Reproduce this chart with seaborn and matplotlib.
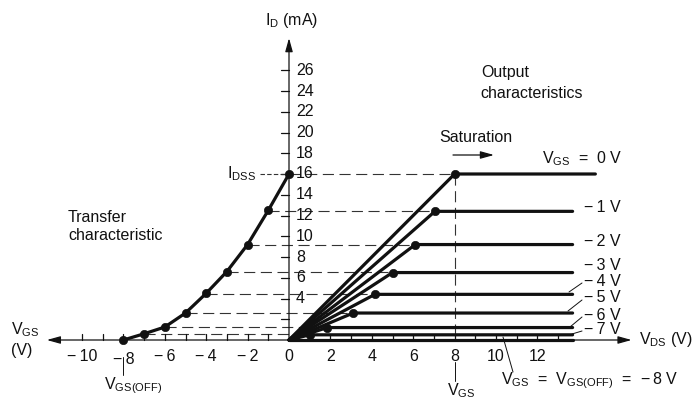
import numpy as np
import pandas as pd
import matplotlib
matplotlib.use("Agg")
import matplotlib.pyplot as plt
import seaborn as sns

# ---------------- data ----------------
vgs_levels = [0, -1, -2, -3, -4, -5, -6, -7, -8]
transfer_id = [16.0, 12.5, 9.2, 6.6, 4.5, 2.6, 1.25, 0.6, 0.0]
output_id = [16.0, 12.4, 9.2, 6.5, 4.4, 2.6, 1.2, 0.5, 0.0]
vds_sat = [8.0, 7.05, 6.1, 5.0, 4.15, 3.1, 1.85, 1.0, 0.0]
vds_end = [14.8, 13.7, 13.7, 13.7, 13.7, 13.7, 13.7, 13.7, 13.7]
TS = "\u2009"
curve_labels = ["V$_\\mathregular{GS}$  =  0 V", f"−{TS}1 V", f"−{TS}2 V", f"−{TS}3 V",
                f"−{TS}4 V", f"−{TS}5 V", f"−{TS}6 V", f"−{TS}7 V", ""]
y_ticks = [2, 4, 6, 8, 10, 12, 14, 16, 18, 20, 22, 24, 26]
y_ticklabels = ["", "4", "6", "8", "10", "12", "14", "16", "18", "20", "22", "24", "26"]
x_ticks_left = [-10, -9, -8, -7, -6, -5, -4, -3, -2, -1]
x_ticks_right = [1, 2, 3, 4, 5, 6, 7, 8, 9, 10, 11, 12, 13]
x_ticklabels = {-10: f"−{TS}10", -8: f"−{TS}8", -6: f"−{TS}6", -4: f"−{TS}4",
                -2: f"−{TS}2", 0: "0", 2: "2", 4: "4", 6: "6", 8: "8", 10: "10", 12: "12"}
vgs_off = -8
idss = 16.0

# ---------------- style ----------------
sns.set_theme(style="white")
plt.rcParams["font.family"] = ["Liberation Sans", "DejaVu Sans"]
plt.rcParams["mathtext.fontset"] = "custom"
plt.rcParams["mathtext.rm"] = "Liberation Sans"

fig = plt.figure(figsize=(6.96, 3.99), dpi=100)
ax = fig.add_axes([0, 0, 1, 1])
px_x = 20.7
px_y = 10.375
ax.set_xlim(-289 / px_x, 407 / px_x)
ax.set_ylim(-59 / px_y, 340 / px_y)
ax.axis("off")

ink = "#111111"
fs = 11.5


def X(p):
    return (p - 289) / px_x


def Y(p):
    return (340 - p) / px_y


# ---------------- dashed projection lines ----------------
for v, it, vs, io in zip(vgs_levels[:-1], transfer_id[:-1], vds_sat[:-1], output_id[:-1]):
    lvl = (it + io) / 2
    ax.plot([v, vs], [lvl, lvl], color="#333333", lw=0.8, dashes=(10, 5), zorder=1)
ax.plot([vds_sat[0], vds_sat[0]], [idss, 0], color="#333333", lw=0.8, dashes=(10, 5), zorder=1)

# ---------------- axes with arrows ----------------
arrow_kw = dict(arrowstyle="-|>,head_length=0.9,head_width=0.25", color=ink, lw=0.9,
                mutation_scale=9, shrinkA=0, shrinkB=0)
ax.annotate("", xy=(16.55, 0), xytext=(0, 0), arrowprops=arrow_kw, zorder=2)
ax.annotate("", xy=(-11.7, 0), xytext=(0, 0), arrowprops=arrow_kw, zorder=2)
ax.annotate("", xy=(0, 29.1), xytext=(0, 0), arrowprops=arrow_kw, zorder=2)

# ticks
tl_y = 8 / px_x
for t, lab in zip(y_ticks, y_ticklabels):
    ax.plot([-tl_y, 0], [t, t], color=ink, lw=0.9, zorder=2)
    if lab:
        ax.text(0.33, t, lab, ha="left", va="center", fontsize=fs, color=ink)
tl_x = 6 / px_y
for t in x_ticks_left + x_ticks_right:
    ax.plot([t, t], [0, tl_x], color=ink, lw=0.9, zorder=2)
for t, lab in x_ticklabels.items():
    dy = -1.55 if t != -8 else -1.85
    ax.text(t, dy, lab, ha="center", va="center", fontsize=fs, color=ink)

# ---------------- output characteristics ----------------
rows = []
for k, (v, io, vs, ve) in enumerate(zip(vgs_levels, output_id, vds_sat, vds_end)):
    rows += [dict(curve=k, vds=0.0, id=0.0), dict(curve=k, vds=vs, id=io),
             dict(curve=k, vds=ve, id=io)]
df_out = pd.DataFrame(rows)
sns.lineplot(data=df_out, x="vds", y="id", units="curve", estimator=None, sort=False,
             color=ink, lw=2.3, ax=ax, zorder=3, legend=False)
sns.scatterplot(x=vds_sat[:-1], y=output_id[:-1], color=ink, s=36, edgecolor=ink,
                ax=ax, zorder=4, legend=False)

# ---------------- transfer characteristic ----------------
sns.lineplot(x=vgs_levels, y=transfer_id, sort=False, estimator=None, color=ink,
             lw=2.3, ax=ax, zorder=3)
sns.scatterplot(x=vgs_levels, y=transfer_id, color=ink, s=36, edgecolor=ink, ax=ax,
                zorder=4, legend=False)
ax.set_xlabel("")
ax.set_ylabel("")

# ---------------- curve labels ----------------
ax.text(X(542), Y(159), curve_labels[0], ha="left", va="center", fontsize=fs, color=ink)
label_y_px = [None, 207, 241, 265, 282, 298, 315, 330]
for k in range(1, 8):
    ax.text(X(584), Y(label_y_px[k]), curve_labels[k],
            ha="left", va="center", fontsize=fs, color=ink)
for a, b in [((569, 292), (582, 283)), ((568, 311), (582, 300)),
             ((570, 327), (582, 317)), ((572, 334), (582, 331))]:
    ax.plot([X(a[0]), X(b[0])], [Y(a[1]), Y(b[1])], color=ink, lw=0.7)

# ---------------- other annotations ----------------
ax.text(X(292), Y(20), "I$_\\mathregular{D}$ (mA)", ha="center", va="center",
        fontsize=fs, color=ink)
ax.text(X(639), 0.05, "V$_\\mathregular{DS}$ (V)", ha="left", va="center",
        fontsize=fs, color=ink)
ax.text(X(11), Y(330), "V$_\\mathregular{GS}$", ha="left", va="center", fontsize=fs, color=ink)
ax.text(X(11), Y(350), "(V)", ha="left", va="center", fontsize=fs, color=ink)
ax.text(X(227), idss, "I$_\\mathregular{DSS}$", ha="left", va="center",
        fontsize=fs, color=ink)
ax.plot([X(260), 0], [idss, idss], color="#333333", lw=0.8, dashes=(4, 2))
ax.text(X(68), Y(217), "Transfer", ha="left", va="center", fontsize=fs, color=ink)
ax.text(X(68), Y(235), "characteristic", ha="left", va="center", fontsize=fs, color=ink)
ax.text(X(481), Y(73), "Output", ha="left", va="center", fontsize=fs, color=ink)
ax.text(X(480), Y(93), "characteristics", ha="left", va="center", fontsize=fs, color=ink)
ax.text(X(439), Y(137), "Saturation", ha="left", va="center", fontsize=fs, color=ink)
ax.annotate("", xy=(X(494), Y(155)), xytext=(X(453), Y(155)), arrowprops=arrow_kw)
# V_GS(OFF)
ax.plot([vgs_off, vgs_off], [Y(357), Y(375)], color=ink, lw=0.7)
ax.text(X(104), Y(386), "V$_\\mathregular{GS(OFF)}$", ha="left", va="center",
        fontsize=fs, color=ink)
# marker below V_DS = 8
ax.plot([vds_sat[0], vds_sat[0]], [Y(362), Y(381)], color=ink, lw=0.7)
ax.text(X(447), Y(391), "V$_\\mathregular{GS}$", ha="left", va="center",
        fontsize=fs, color=ink)
# V_GS = V_GS(OFF) label
ax.text(X(501), Y(381),
        f"V$_\\mathregular{{GS}}$  =  V$_\\mathregular{{GS(OFF)}}$  =  −{TS}8 V", ha="left",
        va="center", fontsize=fs, color=ink)
ax.plot([X(503), X(513)], [Y(337), Y(372)], color=ink, lw=0.7)

fig.savefig("out.png", dpi=100)
